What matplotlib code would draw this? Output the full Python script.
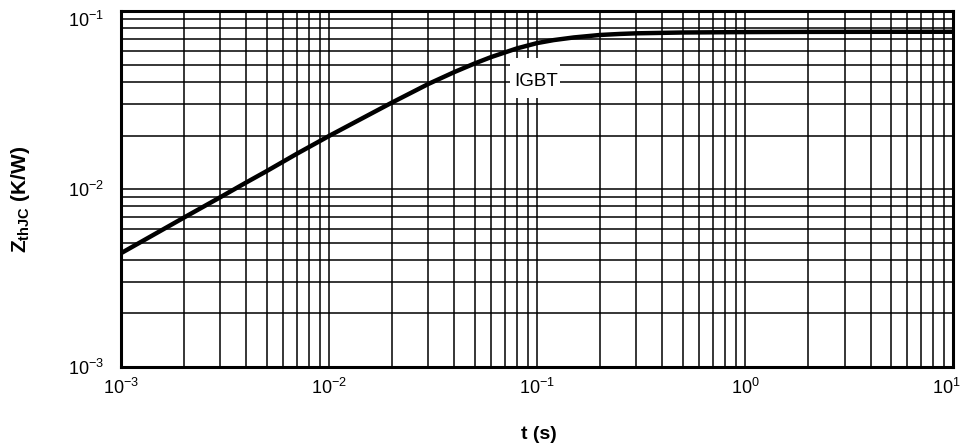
import numpy as np
import matplotlib
matplotlib.use("Agg")
import matplotlib.pyplot as plt
from matplotlib.ticker import LogLocator, NullFormatter
from matplotlib.patches import Rectangle
from matplotlib.transforms import ScaledTranslation

plt.rcParams['font.family'] = ['Liberation Sans', 'DejaVu Sans']
plt.rcParams['mathtext.fontset'] = 'custom'
plt.rcParams['mathtext.rm'] = 'Liberation Sans'
plt.rcParams['mathtext.it'] = 'Liberation Sans:italic'
plt.rcParams['mathtext.bf'] = 'Liberation Sans:bold'
plt.rcParams['axes.unicode_minus'] = False

# transient thermal impedance
t = [1e-3, 2e-3, 3e-3, 4e-3, 5e-3, 7e-3, 1e-2, 1.5e-2, 2e-2, 3e-2, 4e-2,
     5e-2, 6e-2, 8e-2, 0.1, 0.12, 0.15, 0.2, 0.25, 0.3, 0.5, 1, 2, 5, 10]
zth = [0.00436, 0.0069, 0.0090, 0.0109, 0.0126, 0.0158, 0.0199, 0.0256,
       0.0306, 0.0390, 0.0455, 0.0508, 0.0552, 0.0618, 0.0662, 0.0688,
       0.0712, 0.0735, 0.0745, 0.0751, 0.0759, 0.0763, 0.0765, 0.0766, 0.0766]
curve_label = "IGBT"
label_at = (0.0984, 0.0404)

xticks = [1e-3, 1e-2, 1e-1, 1, 10]
xticklabels = [r'$10^{-3}$', r'$10^{-2}$', r'$10^{-1}$', r'$10^{0}$', r'$10^{1}$']
yticks = [1e-3, 1e-2, 1e-1]
yticklabels = [r'$10^{-3}$', r'$10^{-2}$', r'$10^{-1}$']

fig = plt.figure(figsize=(9.61, 4.48), dpi=100)
ax = fig.add_axes([0.126, 0.181, 0.866, 0.794])

ax.plot(t, zth, color='black', lw=3.2, solid_joinstyle='round', solid_capstyle='butt', zorder=3)

ax.set_xscale('log')
ax.set_yscale('log')
ax.set_xlim(1e-3, 10)
ax.set_ylim(1e-3, 1e-1)
ax.set_xticks(xticks, labels=xticklabels)
ax.set_yticks(yticks, labels=yticklabels)
for a in (ax.xaxis, ax.yaxis):
    a.set_minor_locator(LogLocator(base=10, subs=np.arange(2, 10)))
    a.set_minor_formatter(NullFormatter())
ax.grid(True, which='both', color='black', lw=1.1)
ax.tick_params(which='both', length=0, labelsize=13)
ax.tick_params(axis='x', pad=8)
ax.tick_params(axis='y', pad=12)
ax.get_yticklabels()[-1].set_va('top')
last = ax.get_xticklabels()[-1]
last.set_transform(last.get_transform() + ScaledTranslation(-5 / 72, 0, fig.dpi_scale_trans))
for s in ax.spines.values():
    s.set_linewidth(2.2)

# white gap in the grid behind the curve label
ax.add_patch(Rectangle((0.4675, 0.7556), 0.060, 0.1124, transform=ax.transAxes,
                       facecolor='white', edgecolor='none', zorder=2.5))
ax.text(label_at[0], label_at[1], curve_label, fontsize=13.5, ha='center', va='center', zorder=4)

ax.set_xlabel('t (s)', fontsize=14, fontweight='bold')
ax.xaxis.set_label_coords(0.502, -0.165)
ax.set_ylabel(r'$\mathbf{Z_{thJC}}$ (K/W)', fontsize=15, fontweight='bold')
ax.yaxis.set_label_coords(-0.107, 0.47)

fig.savefig('out.png', dpi=100)
